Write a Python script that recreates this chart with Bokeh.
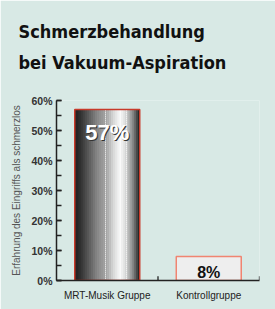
from bokeh.plotting import figure
from bokeh.models import (ColumnDataSource, FactorRange, Range1d, Title,
                          SingleIntervalTicker, CustomJSTickFormatter)
from bokeh.transform import dodge
from bokeh.core.properties import value
from bokeh.embed import file_html
from bokeh.resources import INLINE

# ---- data ----
categories = ["MRT-Musik Gruppe", "Kontrollgruppe"]
values = [57, 8]
value_labels = ["57%", "8%"]
title_lines = ["Schmerzbehandlung", "bei Vakuum-Aspiration"]
y_axis_title = "Erfahrung des Eingriffs als schmerzlos"

BG = "#d8e9e5"
W = 0.64

p = figure(width=275, height=309, output_backend="svg", toolbar_location=None,
           x_range=FactorRange(*categories, range_padding=0, factor_padding=0),
           y_range=Range1d(0, 60),
           min_border_left=56, min_border_right=16, min_border_top=100,
           min_border_bottom=29)
p.background_fill_color = BG
p.border_fill_color = BG
p.outline_line_color = None
p.xgrid.visible = False
p.ygrid.visible = False

src = ColumnDataSource(dict(cat=categories, val=values, lab=value_labels))
src1 = ColumnDataSource(dict(cat=categories[:1], val=values[:1], lab=value_labels[:1]))
src2 = ColumnDataSource(dict(cat=categories[1:], val=values[1:], lab=value_labels[1:]))

# gradient cylinder for first bar
stops = [(0.0, 0x18), (0.12, 0x3a), (0.35, 0x88), (0.5, 0xa8), (0.6, 0xd8),
         (0.7, 0xfb), (0.78, 0xdc), (0.9, 0x80), (1.0, 0x18)]
def shade(t):
    for (t0, c0), (t1, c1) in zip(stops[:-1], stops[1:]):
        if t0 <= t <= t1:
            c = int(round(c0 + (c1 - c0) * (t - t0) / (t1 - t0)))
            return "#%02x%02x%02x" % (c, c, c)
    return "#181818"

N = 32
for i in range(N):
    t = (i + 0.5) / N
    off = -W / 2 + t * W
    p.vbar(x=dodge("cat", off, range=p.x_range), top="val", width=W / N * 1.15,
           source=src1, fill_color=shade(t), line_color=None)

# dotted highlight lines
for off in (-0.017, 0.19):
    p.segment(x0=dodge("cat", off, range=p.x_range), y0=0.6,
              x1=dodge("cat", off, range=p.x_range), y1="val", source=src1,
              line_color="white", line_width=1, line_dash="1 1")

# outline bar 1
p.vbar(x="cat", top="val", width=W, source=src1, fill_color=None,
       line_color="#c83a2a", line_width=1.5)
# bar 2
p.vbar(x="cat", top="val", width=W, source=src2, fill_color="#eeeeee",
       line_color="#f08571", line_width=1.5)

# value labels
p.text(x="cat", y="val", text="lab", source=src1, x_offset=1, y_offset=24,
       text_align="center", text_baseline="alphabetic",
       text_font=value("Liberation Sans"), text_font_style="bold",
       text_font_size="22px", text_color="#333333")
p.text(x="cat", y="val", text="lab", source=src1, y_offset=23,
       text_align="center", text_baseline="alphabetic",
       text_font=value("Liberation Sans"), text_font_style="bold",
       text_font_size="22px", text_color="white")
p.text(x="cat", y="val", text="lab", source=src2, y_offset=16,
       text_align="center", text_baseline="alphabetic",
       text_font=value("Liberation Sans"), text_font_style="bold",
       text_font_size="16px", text_color="#111111")

# boundary ticks on x axis
p.segment(x0=dodge("cat", 0.5, range=p.x_range), y0=0,
          x1=dodge("cat", 0.5, range=p.x_range), y1=1.4, source=src,
          line_color="#222222", line_width=1.3)

# axes
ya = p.yaxis[0]
ya.ticker = SingleIntervalTicker(interval=10, num_minor_ticks=2)
ya.formatter = CustomJSTickFormatter(code="return tick + '%';")
ya.major_tick_in = 5
ya.major_tick_out = 0
ya.minor_tick_in = 5
ya.minor_tick_out = 0
ya.major_tick_line_color = "#222222"
ya.minor_tick_line_color = "#222222"
ya.major_tick_line_width = 1.3
ya.minor_tick_line_width = 1.3
ya.axis_line_color = "#222222"
ya.axis_line_width = 1.5
ya.major_label_text_font = "Liberation Sans"
ya.major_label_text_font_style = "bold"
ya.major_label_text_font_size = "10.5px"
ya.major_label_text_color = "#333333"
ya.major_label_standoff = 4
ya.axis_label = y_axis_title
ya.axis_label_text_font = "Liberation Sans"
ya.axis_label_text_font_style = "normal"
ya.axis_label_text_font_size = "10px"
ya.axis_label_text_color = "#555555"
ya.axis_label_standoff = 6

xa = p.xaxis[0]
xa.major_tick_line_color = None
xa.minor_tick_line_color = None
xa.axis_line_color = "#222222"
xa.axis_line_width = 1.5
xa.major_label_text_font = "Liberation Sans"
xa.major_label_text_font_size = "10px"
xa.major_label_text_color = "#222222"
xa.major_label_standoff = 3

# title (two lines; a blank third line keeps them clear of the plot)
p.add_layout(Title(text="\n".join(title_lines + [" "]),
                   text_font="'DejaVu Sans Condensed', 'Liberation Sans'",
                   text_font_style="bold", text_font_size="18px",
                   text_color="#111111", text_line_height=1.45,
                   offset=-38, standoff=-5, align="left"), "above")

open("out.html", "w").write(file_html(p, INLINE))
